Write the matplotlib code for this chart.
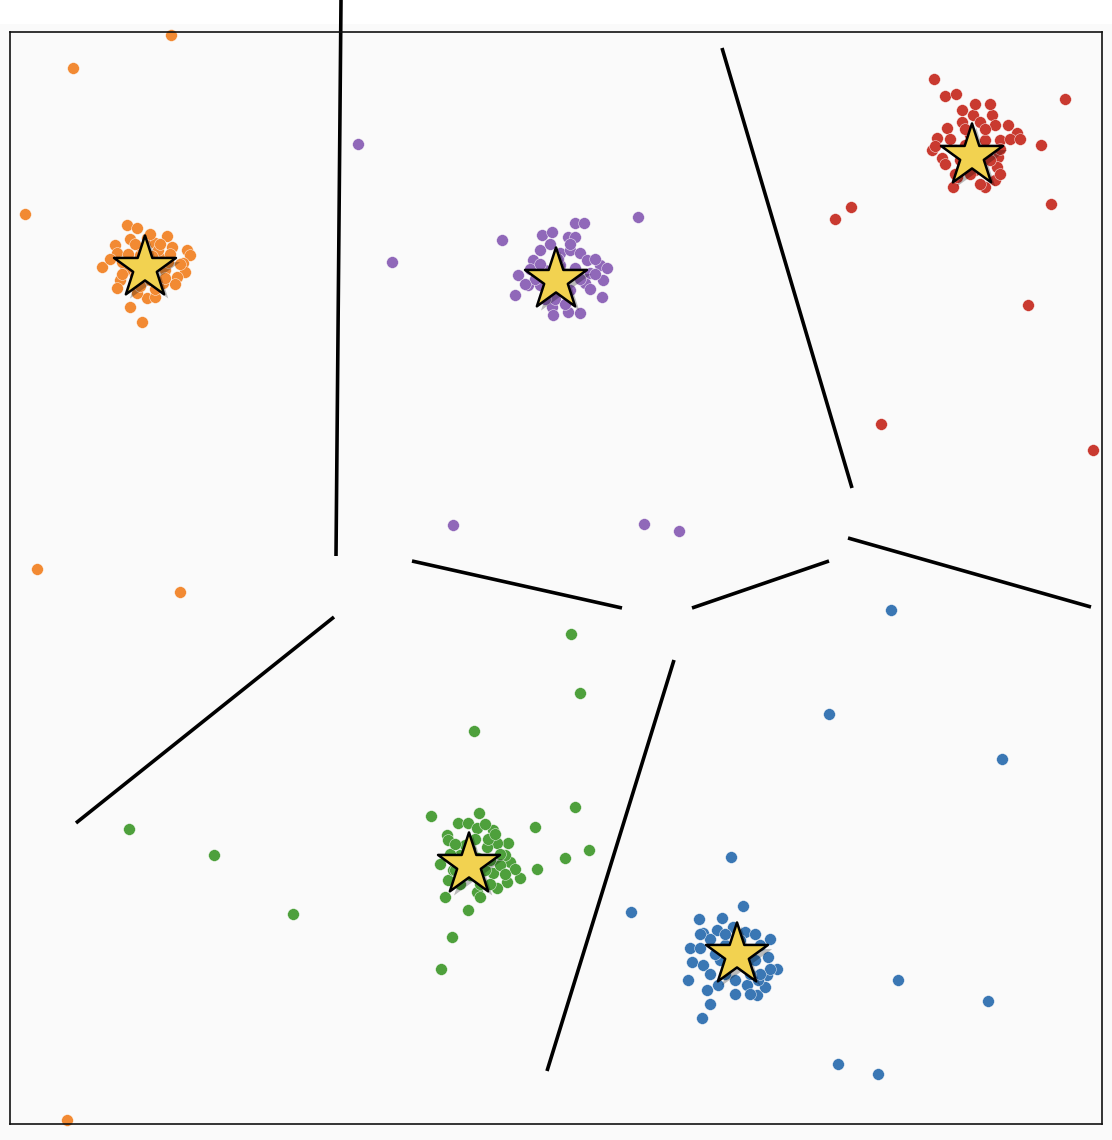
import matplotlib
matplotlib.use("Agg")
import matplotlib.pyplot as plt
import matplotlib.patheffects as pe
from matplotlib.patches import Rectangle
import numpy as np

# cluster points (x, y) in a 0..1092 square
orange = [(161, 1089), (63, 1056), (15, 910), (27, 555), (170, 532), (57, 4), (132, 802), (92, 857),
          (117, 899), (127, 896), (157, 888), (105, 879), (120, 885), (137, 886), (145, 881), (162, 877),
          (177, 874), (180, 869), (107, 871), (173, 861), (175, 852), (167, 847), (110, 844), (107, 836),
          (137, 826), (145, 827), (120, 817), (127, 831), (153, 841), (135, 864), (140, 854), (130, 869),
          (145, 859), (150, 866), (120, 862), (125, 849), (140, 844), (155, 854), (115, 854), (132, 876),
          (148, 874), (112, 862), (158, 862), (125, 880), (150, 880), (160, 870), (112, 850), (165, 840),
          (130, 838), (145, 835), (118, 870), (170, 860), (140, 890), (100, 865), (155, 846), (128, 856),
          (142, 868)]
purple = [(348, 980), (382, 862), (628, 907), (443, 599), (634, 600), (669, 593), (492, 884),
          (532, 889), (542, 892), (565, 901), (574, 901), (558, 887), (565, 887), (530, 874), (550, 871),
          (560, 874), (570, 871), (577, 864), (523, 864), (590, 859), (597, 856), (508, 849), (518, 839),
          (505, 829), (593, 844), (592, 827), (542, 817), (543, 809), (558, 812), (570, 811), (575, 841),
          (580, 851), (546, 844), (535, 854), (555, 849), (540, 834), (550, 859), (560, 834), (530, 839),
          (565, 856), (520, 855), (525, 845), (585, 850), (580, 835), (545, 825), (555, 820), (535, 825),
          (560, 880), (540, 880), (548, 865), (585, 865), (515, 840), (570, 845), (530, 860)]
red = [(924, 1045), (1055, 1025), (1031, 979), (825, 905), (841, 917), (1041, 920), (1018, 819), (871, 700),
       (1083, 674), (935, 1028), (946, 1030), (952, 1014), (963, 1009), (982, 1009), (952, 1002), (970, 1002),
       (985, 999), (998, 999), (1007, 991), (937, 996), (927, 986), (922, 974), (932, 966), (990, 984),
       (988, 967), (985, 944), (975, 937), (943, 937), (947, 947), (987, 957), (962, 968), (955, 979),
       (970, 974), (975, 984), (950, 964), (965, 954), (980, 964), (945, 974), (960, 989), (940, 985),
       (955, 995), (975, 995), (990, 975), (1000, 985), (935, 960), (945, 950), (990, 950), (960, 950),
       (970, 940), (925, 978), (1010, 985), (980, 1020), (965, 1020)]
green = [(561, 490), (570, 431), (464, 393), (119, 295), (204, 269), (283, 210), (565, 317), (579, 274),
         (555, 266), (421, 308), (469, 311), (448, 301), (458, 301), (467, 296), (483, 294), (437, 289),
         (438, 284), (525, 297), (498, 281), (487, 281), (477, 277), (500, 262), (495, 269), (527, 255),
         (510, 246), (497, 242), (487, 236), (467, 232), (470, 227), (435, 227), (438, 244), (443, 254),
         (458, 214), (442, 187), (431, 155), (483, 251), (490, 259), (459, 259), (450, 269), (468, 266),
         (460, 249), (475, 254), (445, 254), (455, 279), (480, 264), (440, 270), (445, 280), (465, 285),
         (478, 285), (490, 270), (505, 255), (470, 240), (450, 240), (480, 240), (495, 250), (430, 260),
         (460, 275), (485, 290), (475, 300)]
blue = [(881, 514), (819, 410), (992, 365), (721, 267), (621, 212), (888, 144), (978, 123), (828, 60),
        (868, 50), (733, 218), (689, 205), (712, 206), (693, 191), (707, 194), (723, 197), (735, 192),
        (680, 176), (690, 176), (682, 162), (693, 159), (758, 167), (767, 155), (757, 149), (678, 144),
        (697, 134), (708, 139), (737, 139), (747, 129), (755, 137), (748, 144), (725, 144), (692, 106),
        (750, 179), (727, 169), (715, 179), (740, 174), (720, 159), (735, 159), (710, 164), (745, 164),
        (730, 184), (700, 185), (705, 170), (700, 150), (715, 150), (760, 155), (750, 150), (740, 150),
        (715, 190), (745, 190), (760, 185), (690, 190), (700, 120), (740, 130), (725, 130)]

centers = [(135, 856), (546, 844), (962, 968), (459, 259), (727, 169)]

# voronoi edge pieces
edges = [((331, 1124), (326, 568)),
         ((402, 563), (612, 516)),
         ((324, 507), (66, 301)),
         ((682, 516), (819, 563)),
         ((664, 464), (537, 53)),
         ((712, 1076), (842, 636)),
         ((838, 586), (1081, 517))]

clusters = [(orange, "#f28a33"), (purple, "#9068b9"), (red, "#c93a30"),
            (green, "#4ea03c"), (blue, "#3a77b4")]

fig = plt.figure(figsize=(11.12, 11.4), dpi=100, facecolor="#fafafa")
fig.patches.append(Rectangle((0, 1116 / 1140), 1, 24 / 1140, transform=fig.transFigure,
                             facecolor="white", edgecolor="none", zorder=-1))
ax = fig.add_axes([10 / 1112, 16 / 1140, 1092 / 1112, 1092 / 1140])
ax.set_facecolor("#fafafa")

for pts, col in clusters:
    p = np.array(pts)
    ax.scatter(p[:, 0], p[:, 1], s=72, c=col, edgecolors="white", linewidths=0.3, zorder=2, clip_on=False)

for (x0, y0), (x1, y1) in edges:
    ax.plot([x0, x1], [y0, y1], color="black", lw=2.6, solid_capstyle="butt", zorder=1, clip_on=False)

c = np.array(centers)
ax.scatter(c[:, 0], c[:, 1], marker="*", s=2200, c="#f2d250", edgecolors="black", linewidths=1.8,
           zorder=3, path_effects=[pe.SimplePatchShadow(offset=(3, -3), shadow_rgbFace="black", alpha=0.25),
                                   pe.Normal()])

ax.set_xlim(0, 1092)
ax.set_ylim(0, 1092)
ax.set_xticks([])
ax.set_yticks([])
for sp in ax.spines.values():
    sp.set_linewidth(1.2)
    sp.set_color("#111111")

fig.savefig("out.png", dpi=100, facecolor=fig.get_facecolor())
